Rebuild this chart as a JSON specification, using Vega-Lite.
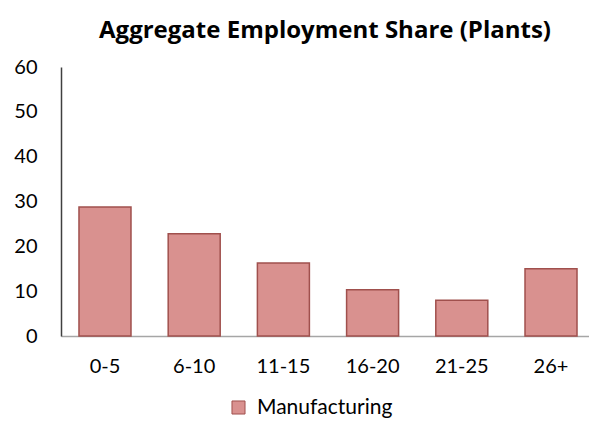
{
  "$schema": "https://vega.github.io/schema/vega-lite/v6.json",
  "width": 528,
  "height": 269,
  "autosize": {"type": "none"},
  "padding": {"left": 61, "top": 67, "right": 0, "bottom": 85},
  "background": "white",
  "title": {
    "text": "Aggregate Employment Share (Plants)",
    "font": "Open Sans",
    "fontSize": 24,
    "fontWeight": "bold",
    "color": "#000000",
    "anchor": "middle",
    "offset": 14
  },
  "data": {
    "values": [
      {"group": "0-5", "share": 28.8, "series": "Manufacturing"},
      {"group": "6-10", "share": 22.8, "series": "Manufacturing"},
      {"group": "11-15", "share": 16.3, "series": "Manufacturing"},
      {"group": "16-20", "share": 10.3, "series": "Manufacturing"},
      {"group": "21-25", "share": 8.0, "series": "Manufacturing"},
      {"group": "26+", "share": 15.0, "series": "Manufacturing"}
    ]
  },
  "mark": {"type": "bar", "stroke": "#A0504D", "strokeWidth": 1.5},
  "encoding": {
    "x": {
      "field": "group",
      "type": "nominal",
      "sort": null,
      "scale": {"paddingInner": 0.417, "paddingOuter": 0.168, "align": 0.6},
      "axis": {
        "title": null,
        "labelAngle": 0,
        "labelFont": "Lato",
        "labelFontSize": 20,
        "labelColor": "#000000",
        "labelPadding": 20,
        "ticks": false,
        "domainColor": "#A6A6A6",
        "domainWidth": 1.5
      }
    },
    "y": {
      "field": "share",
      "type": "quantitative",
      "scale": {"domain": [0, 60]},
      "axis": {
        "title": null,
        "values": [0, 10, 20, 30, 40, 50, 60],
        "grid": false,
        "ticks": false,
        "labelFont": "Lato",
        "labelFontSize": 20,
        "labelColor": "#000000",
        "labelPadding": 24,
        "domainColor": "#404040",
        "domainWidth": 1.5
      }
    },
    "fill": {
      "field": "series",
      "type": "nominal",
      "scale": {"range": ["#D9918F"]},
      "legend": {
        "title": null,
        "orient": "none",
        "legendX": 167,
        "legendY": 330,
        "symbolType": "square",
        "symbolSize": 170,
        "symbolStrokeColor": "#A0504D",
        "symbolStrokeWidth": 1,
        "labelFont": "Lato",
        "labelFontSize": 21,
        "labelColor": "#000000",
        "labelOffset": 8
      }
    }
  },
  "config": {"view": {"stroke": null}}
}
